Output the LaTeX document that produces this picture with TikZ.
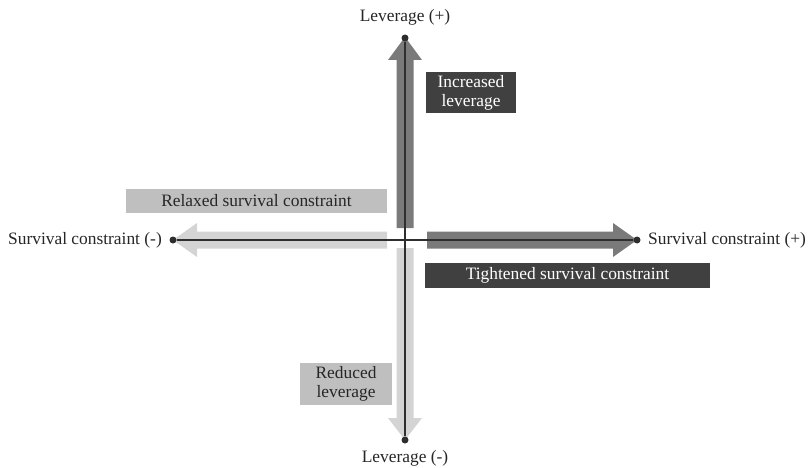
\documentclass[tikz,border=0pt]{standalone}
\usepackage{fontspec}
\setmainfont{Liberation Serif}
\definecolor{darkarrow}{HTML}{7A7A7A}
\definecolor{lightarrow}{HTML}{D4D4D4}
\definecolor{darkbox}{HTML}{404040}
\definecolor{lightbox}{HTML}{BFBFBF}
\definecolor{axis}{HTML}{2E2E2E}
\begin{document}
\begin{tikzpicture}[x=1pt,y=-1pt,
  lbl/.style={font=\fontsize{17.4}{19}\selectfont, text=black!85, inner sep=0pt},
  boxd/.style={fill=darkbox, text=white, font=\fontsize{17.4}{19}\selectfont, align=center, inner sep=0pt},
  boxl/.style={fill=lightbox, text=black!85, font=\fontsize{17.4}{19}\selectfont, align=center, inner sep=0pt},
  dot/.style={circle, fill=axis, inner sep=0pt, minimum size=7pt},
  axisline/.style={draw=axis, line width=2pt}]
\useasboundingbox (0,0) rectangle (808,468);
% block arrows
\fill[darkarrow] (396.5,228) -- (396.5,60) -- (388,60) -- (405,37) -- (422,60) -- (413.5,60) -- (413.5,228) -- cycle;
\fill[darkarrow] (427,231.5) -- (613,231.5) -- (613,223) -- (637,240) -- (613,257) -- (613,248.5) -- (427,248.5) -- cycle;
\fill[lightarrow] (387,231.5) -- (197,231.5) -- (197,223) -- (173,240) -- (197,257) -- (197,248.5) -- (387,248.5) -- cycle;
\fill[lightarrow] (396.5,248) -- (396.5,418) -- (388,418) -- (405,440) -- (422,418) -- (413.5,418) -- (413.5,248) -- cycle;
% axis dots
\node[dot] (top) at (405,38) {};
\node[dot] (bot) at (405,440) {};
\node[dot] (left) at (173,240) {};
\node[dot] (right) at (637,240) {};
\draw[axisline] (top) -- (bot);
\draw[axisline] (left) -- (right);
% axis labels
\node[lbl] (ltop) at (405,17) {Leverage (+)};
\node[lbl] (lbot) at (405,458) {Leverage (-)};
\node[lbl, anchor=east] (lleft) at (162,240) {Survival constraint (-)};
\node[lbl, anchor=west] (lright) at (648,240) {Survival constraint (+)};
% boxes
\node[boxd, minimum width=90pt, minimum height=41pt] (inc) at (471,92.5) {Increased\\leverage};
\node[boxl, minimum width=261pt, minimum height=24pt] (rel) at (256.5,201) {Relaxed survival constraint};
\node[boxd, minimum width=285pt, minimum height=25pt] (tig) at (567.5,275.5) {Tightened survival constraint};
\node[boxl, minimum width=92pt, minimum height=42pt] (red) at (346,384) {Reduced\\leverage};
\end{tikzpicture}
\end{document}
